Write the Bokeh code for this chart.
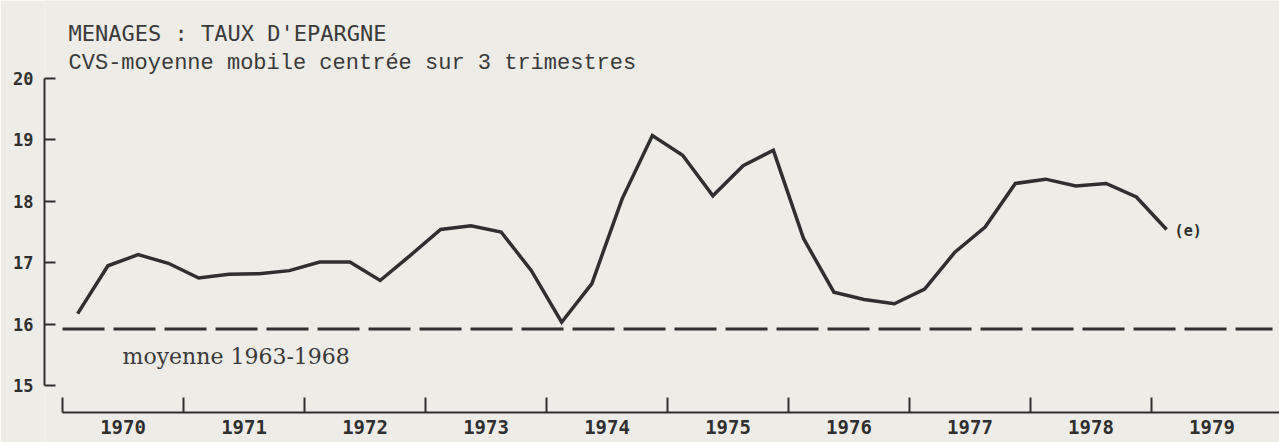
from bokeh.plotting import figure
from bokeh.models import FixedTicker, CustomJSTickFormatter, Label, Range1d
from bokeh.core.properties import value
from bokeh.embed import file_html
from bokeh.resources import INLINE

# ---- data ----
years = list(range(1970, 1980))
savings_rate = [
    16.17, 16.95, 17.13, 16.99,   # 1970
    16.75, 16.81, 16.82, 16.87,   # 1971
    17.01, 17.01, 16.71, 17.12,   # 1972
    17.54, 17.60, 17.50, 16.87,   # 1973
    16.03, 16.66, 18.04, 19.07,   # 1974
    18.75, 18.09, 18.58, 18.83,   # 1975
    17.39, 16.52, 16.40, 16.33,   # 1976
    16.57, 17.17, 17.58, 18.29,   # 1977
    18.36, 18.25, 18.29, 18.07,   # 1978
    17.54,                        # 1979 T1 (estimation)
]
mean_1963_1968 = 15.92
y_ticks = [15, 16, 17, 18, 19, 20]
title_text = "MENAGES : TAUX D'EPARGNE"
subtitle_text = "CVS-moyenne mobile centrée sur 3 trimestres"
mean_text = "moyenne 1963-1968"
estimate_text = "(e)"

# quarter centres on a year axis
quarter_x = [years[0] + (i + 0.5) / 4 for i in range(len(savings_rate))]

BG = "#eeece6"
INK = "#2f2f2f"
TXT = "#3a3a3a"

X_AXIS_AT = 14.56

p = figure(width=1279, height=442, output_backend="svg", toolbar_location=None,
           x_range=Range1d(1969.851, 1980.058), y_range=Range1d(14.071, 21.270),
           min_border_left=44, min_border_right=0, min_border_top=0, min_border_bottom=0,
           background_fill_color=BG, border_fill_color=BG, outline_line_color=None)
p.xgrid.visible = False
p.ygrid.visible = False

ax = p.xaxis[0]
ax.fixed_location = X_AXIS_AT
ax.ticker = FixedTicker(ticks=[y + 0.5 for y in years], minor_ticks=years)
ax.formatter = CustomJSTickFormatter(code="return String(Math.floor(tick));")
ax.major_tick_in = 0
ax.major_tick_out = 0
ax.minor_tick_in = 15
ax.minor_tick_out = 0
ax.minor_tick_line_width = 2
ax.minor_tick_line_color = INK
ax.axis_line_width = 2
ax.axis_line_color = INK
ax.bounds = (years[0], 1980.058)
ax.major_label_text_font = "DejaVu Sans Mono"
ax.major_label_text_font_style = "bold"
ax.major_label_text_font_size = "19px"
ax.major_label_text_color = INK
ax.major_label_standoff = 8

ay = p.yaxis[0]
ay.ticker = FixedTicker(ticks=y_ticks)
ay.major_tick_in = 11
ay.major_tick_out = 0
ay.minor_tick_in = 0
ay.minor_tick_out = 0
ay.major_tick_line_width = 2
ay.major_tick_line_color = INK
ay.axis_line_width = 2
ay.axis_line_color = INK
ay.bounds = (y_ticks[0], y_ticks[-1])
ay.major_label_text_font = "DejaVu Sans Mono"
ay.major_label_text_font_style = "bold"
ay.major_label_text_font_size = "17px"
ay.major_label_text_color = INK
ay.major_label_standoff = 11

# mean 1963-1968 (dashed)
p.line([years[0], years[-1] + 1], [mean_1963_1968, mean_1963_1968],
       line_dash="42 9", line_width=3, line_color=INK)

# savings rate
p.line(quarter_x, savings_rate, line_width=3.5, line_color=INK, line_join="miter")

# estimate marker text
p.text(x=[quarter_x[-1]], y=[savings_rate[-1]], text=[estimate_text],
       x_offset=8, y_offset=1, text_baseline="middle", text_align="left",
       text_font=value("DejaVu Sans Mono"), text_font_style="bold",
       text_font_size="15px", text_color=INK)

p.add_layout(Label(x=years[0], y=mean_1963_1968, x_offset=60, y_offset=-27.5,
                   text=mean_text, text_font="DejaVu Serif",
                   text_font_size="22px", text_color=TXT,
                   text_baseline="alphabetic", text_align="left"))

p.add_layout(Label(x=years[0], y=y_ticks[-1], x_offset=6, y_offset=45,
                   text=title_text, text_font="DejaVu Sans Mono",
                   text_font_size="22px", text_color=TXT,
                   text_baseline="alphabetic", text_align="left"))
p.add_layout(Label(x=years[0], y=y_ticks[-1], x_offset=6, y_offset=15,
                   text=subtitle_text, text_font="Liberation Mono",
                   text_font_size="22px", text_color=TXT,
                   text_baseline="alphabetic", text_align="left"))

open("out.html", "w").write(file_html(p, INLINE))
